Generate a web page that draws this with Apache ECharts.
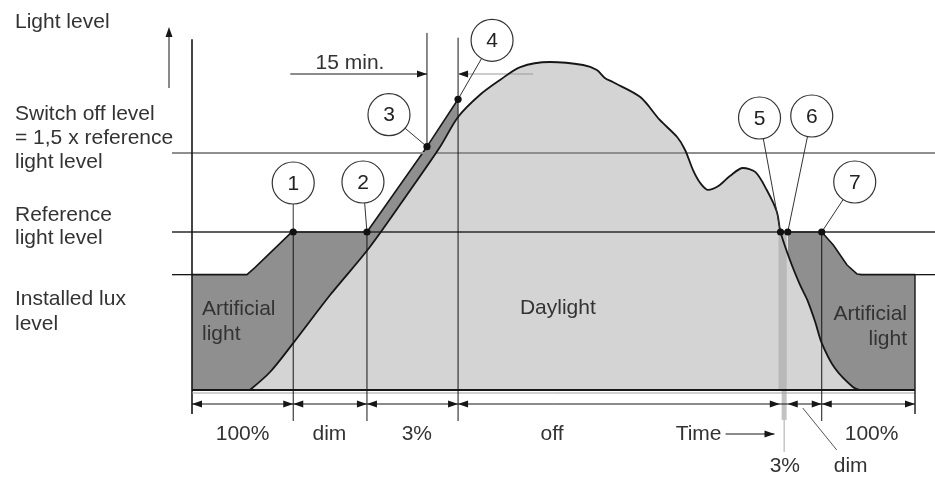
<!DOCTYPE html>
<html>
<head>
<meta charset="utf-8">
<title>Daylight-linked lighting control</title>
<script src="https://cdn.jsdelivr.net/npm/echarts@6/dist/echarts.min.js"></script>
<style>
  html, body { margin: 0; padding: 0; background: #fff; }
  #chart { width: 935px; height: 477px; }
</style>
</head>
<body>
<div id="chart"></div>
<script>
// ---- Light levels, relative to the reference light level (= 100) ----
const installedLevel = 73;
const referenceLevel = 100;
const switchOffLevel = 150;

// ---- Time runs from 0 (start of day) to dayEnd ----
const dayEnd = 100;
const fifteenMinStart = 13.6;          // 15 minutes before switch-off (event 3)

// Control events 1..7: [time, light level]
const eventNames = ['1', '2', '3', '4', '5', '6', '7'];
const eventPoints = [
  [14.0, 100], [24.2, 100], [32.5, 154], [36.8, 184],
  [81.4, 100], [82.4, 100], [87.1, 100]
];
const eventTimes = eventPoints.map(p => p[0]);

// Daylight contribution over the day
const daylight = [
  [8.0, 0], [10.8, 11.4], [14.0, 29.7], [19.1, 60.1], [24.6, 90.5], [30.2, 126.6],
  [34.3, 153.8], [36.8, 172.8], [39.8, 186.7], [42.6, 196.2], [45.4, 204.4],
  [49.5, 207.6], [54.1, 205.7], [56.0, 202.5], [57.1, 197.5], [58.2, 194.9],
  [62.0, 185.4], [64.7, 170.9], [67.1, 160.1], [68.2, 151.9], [69.3, 139.2],
  [70.3, 131.0], [71.4, 126.6], [72.8, 129.1], [74.4, 135.4], [76.2, 140.5],
  [77.9, 138.0], [79.5, 126.6], [80.9, 112.7], [81.4, 100], [82.7, 82.3],
  [84.1, 66.5], [85.1, 57.0], [86.2, 43.0], [87.1, 29.7], [88.9, 13.9],
  [91.4, 1.9], [92.4, 0]
];

// Total light (daylight + artificial) while artificial light is on
const artificialMorning = [
  [0, 73], [7.6, 73], [8.7, 77.5], [13.5, 98.7], [14.0, 100],
  [24.2, 100], [32.5, 154], [36.8, 184]
];
const artificialEvening = [
  [82.4, 100], [87.1, 100], [88.7, 91.8], [90.6, 79.1], [92.0, 73.4], [92.6, 73], [100, 73]
];

// Operating modes along the time axis
const modeSegments = [[0, 14.0], [14.0, 24.2], [24.2, 36.8], [36.8, 81.3], [82.4, 87.1], [87.1, 100]];
const modeLabels = ['100%', 'dim', '3%', 'off', '100%'];
const lowerLabels = ['3%', 'dim'];

// ---- Layout (pixels / axis units used only for placing annotations) ----
const modeLabelX = [7.0, 19.0, 31.1, 49.8, 94.0];
const lowerLabelX = [82.0, 91.1];
const badgeOffsets = [[0, -49], [-4, -50], [-38, -32], [34, -59], [-21, -114], [24, -116], [33, -50]];
const axisTopLevel = 222;
const event3TopLevel = 226;
const event4TopLevel = 223;
const arrowLevel = 200;

const FONT = '21px "Liberation Sans", Arial, sans-serif';
const INK = '#161616';
const TXT = '#333';
const DAY_FILL = '#d4d4d4';
const ART_FILL = '#8f8f8f';
const BAND_FILL = '#b9b9b9';

const chart = echarts.init(document.getElementById('chart'), null, { renderer: 'canvas' });

function renderEvent(params, api) {
  const p = api.coord([api.value(0), api.value(1)]);
  const off = badgeOffsets[params.dataIndex];
  const c = [p[0] + off[0], p[1] + off[1]];
  const r = 21;
  const dx = p[0] - c[0], dy = p[1] - c[1], d = Math.hypot(dx, dy);
  const e = [c[0] + dx / d * r, c[1] + dy / d * r];
  return {
    type: 'group',
    children: [
      { type: 'line', shape: { x1: e[0], y1: e[1], x2: p[0], y2: p[1] }, style: { stroke: '#333', lineWidth: 1 } },
      { type: 'circle', shape: { cx: c[0], cy: c[1], r: r }, style: { fill: '#fff', stroke: '#333', lineWidth: 1.2 } },
      { type: 'text', x: c[0], y: c[1] + 1, style: { text: eventNames[params.dataIndex], font: FONT, fill: '#222', align: 'center', verticalAlign: 'middle' } },
      { type: 'circle', shape: { cx: p[0], cy: p[1], r: 3.6 }, style: { fill: '#111' } }
    ]
  };
}

// 3% interval between events 5 and 6 (drawn between the daylight area and its outline)
function renderBand(params, api) {
  const X = v => api.coord([v, 0])[0];
  const Y = v => api.coord([0, v])[1];
  const base = Y(0);
  const t5 = eventTimes[4], t6 = eventTimes[5];
  const mid = (X(t5) + X(t6)) / 2;
  return {
    type: 'group',
    children: [
      { type: 'rect', shape: { x: X(t5) - 2, y: Y(referenceLevel), width: X(t6) - X(t5) + 1, height: base - Y(referenceLevel) }, style: { fill: BAND_FILL } },
      { type: 'rect', shape: { x: mid - 2.5, y: base, width: 5, height: 30 }, style: { fill: '#c2c2c2' } },
      { type: 'line', shape: { x1: mid, y1: base + 30, x2: mid, y2: base + 62 }, style: { stroke: '#a8a8a8', lineWidth: 1 } }
    ]
  };
}

function renderFrame(params, api) {
  const X = v => api.coord([v, 0])[0];
  const Y = v => api.coord([0, v])[1];
  const base = Y(0);
  const x0 = X(0), xEnd = X(dayEnd);
  const left = x0 - 20, right = xEnd + 20;
  const [t1, t2, t3, t4, t5, t6, t7] = eventTimes;
  const els = [];
  const line = (x1, y1, x2, y2, stroke, w) =>
    els.push({ type: 'line', shape: { x1, y1, x2, y2 }, style: { stroke, lineWidth: w } });
  const head = (x, y, dir) =>
    els.push({ type: 'polygon', shape: { points: [[x, y], [x - dir * 10, y - 3.5], [x - dir * 10, y + 3.5]] }, style: { fill: INK } });
  const text = (s, x, y, align) =>
    els.push({ type: 'text', x, y, style: { text: s, font: FONT, fill: TXT, align: align || 'center', verticalAlign: 'middle' } });

  // level lines
  line(left, Y(switchOffLevel), right, Y(switchOffLevel), '#8e8e8e', 2);
  line(left, Y(referenceLevel), right, Y(referenceLevel), '#2a2a2a', 1.3);
  line(left, Y(installedLevel), x0, Y(installedLevel), INK, 1.3);
  line(xEnd, Y(installedLevel), right, Y(installedLevel), INK, 1.3);

  // axes frame
  line(x0, Y(axisTopLevel), x0, base + 24, INK, 1.6);
  line(x0, base, xEnd, base, INK, 2.2);
  line(x0, base + 3, xEnd, base + 3, '#a0a0a0', 1);
  line(xEnd, Y(installedLevel), xEnd, base + 24, INK, 1.4);

  // event verticals
  line(X(t1), Y(referenceLevel), X(t1), base + 31, INK, 1);
  line(X(t2), Y(referenceLevel), X(t2), base + 31, INK, 1);
  line(X(t3), Y(event3TopLevel), X(t3), Y(eventPoints[2][1]), INK, 1);
  line(X(t4), Y(event4TopLevel), X(t4), base + 31, INK, 1);
  line(X(t7), Y(referenceLevel), X(t7), base + 31, INK, 1);

  // operating-mode dimension row
  const dy = base + 14;
  line(x0, dy, xEnd, dy, INK, 1);
  modeSegments.forEach(([a, b]) => { head(X(a), dy, -1); head(X(b), dy, 1); });
  modeLabels.forEach((s, i) => text(s, X(modeLabelX[i]), base + 44));
  lowerLabels.forEach((s, i) => text(s, X(lowerLabelX[i]), base + 76));
  line(X(t6) + 15, base + 18, X(t6) + 49, base + 60, '#555', 1);

  // time arrow
  text('Time', X(t5) - 59, base + 44, 'right');
  line(X(t5) - 55, base + 44, X(t5) - 6, base + 44, INK, 1);
  head(X(t5) - 6, base + 44, 1);

  // 15 minutes before switch-off
  line(X(fifteenMinStart), Y(arrowLevel), X(t3), Y(arrowLevel), INK, 1);
  head(X(t3), Y(arrowLevel), 1);
  text('15 min.', X(t3) - 77, Y(arrowLevel) - 11);
  line(X(t4), Y(arrowLevel), X(t4) + 75, Y(arrowLevel), '#9a9a9a', 1.2);
  head(X(t4), Y(arrowLevel), -1);

  // area names
  text('Daylight', X(50.6), Y(52));
  els.push({ type: 'text', x: x0 + 10, y: Y(installedLevel) + 22, style: { text: 'Artificial\nlight', font: FONT, fill: TXT, align: 'left', verticalAlign: 'top', lineHeight: 25 } });
  els.push({ type: 'text', x: xEnd - 8, y: Y(installedLevel) + 27, style: { text: 'Artificial\nlight', font: FONT, fill: TXT, align: 'right', verticalAlign: 'top', lineHeight: 25 } });

  // light level arrow
  line(x0 - 23, 88, x0 - 23, 34, '#8a8a8a', 2);
  els.push({ type: 'polygon', shape: { points: [[x0 - 23, 27], [x0 - 26.5, 37], [x0 - 19.5, 37]] }, style: { fill: INK } });

  return { type: 'group', children: els };
}

const option = {
  animation: false,
  backgroundColor: '#fff',
  grid: { left: 192, right: 20, top: 34.5, bottom: 87 },
  xAxis: { type: 'value', min: 0, max: dayEnd, show: false },
  yAxis: { type: 'value', min: 0, max: 225, show: false },
  graphic: [
    { type: 'text', x: 15, y: 12, style: { text: 'Light level', font: FONT, fill: TXT, verticalAlign: 'top' } },
    { type: 'text', x: 15, y: 102, style: { text: 'Switch off level\n= 1,5 x reference\nlight level', font: FONT, fill: TXT, verticalAlign: 'top', lineHeight: 24 } },
    { type: 'text', x: 15, y: 204, style: { text: 'Reference\nlight level', font: FONT, fill: TXT, verticalAlign: 'top', lineHeight: 23 } },
    { type: 'text', x: 15, y: 287, style: { text: 'Installed lux\nlevel', font: FONT, fill: TXT, verticalAlign: 'top', lineHeight: 25 } }
  ],
  series: [
    {
      type: 'line', name: 'Artificial (morning)', data: artificialMorning, showSymbol: false, clip: false, z: 1,
      lineStyle: { color: INK, width: 1.6 }, areaStyle: { color: ART_FILL, opacity: 1 }
    },
    {
      type: 'line', name: 'Artificial (evening)', data: artificialEvening, showSymbol: false, clip: false, z: 1,
      lineStyle: { color: INK, width: 1.6 }, areaStyle: { color: ART_FILL, opacity: 1 }
    },
    {
      type: 'line', name: 'Daylight area', data: daylight, showSymbol: false, smooth: 0.3, clip: false, z: 2,
      lineStyle: { width: 0, opacity: 0 }, areaStyle: { color: DAY_FILL, opacity: 1 }
    },
    {
      type: 'custom', name: '3% interval', data: [[0, 0]], renderItem: renderBand, z: 2, silent: true
    },
    {
      type: 'line', name: 'Daylight', data: daylight, showSymbol: false, smooth: 0.3, clip: false, z: 3,
      lineStyle: { color: INK, width: 1.8 }
    },
    {
      type: 'custom', name: 'Frame', data: [[0, 0]], renderItem: renderFrame, z: 3, silent: true
    },
    {
      type: 'custom', name: 'Events', data: eventPoints, renderItem: renderEvent, z: 4, silent: true,
      encode: { x: 0, y: 1 }
    }
  ]
};

chart.setOption(option);
</script>
</body>
</html>
